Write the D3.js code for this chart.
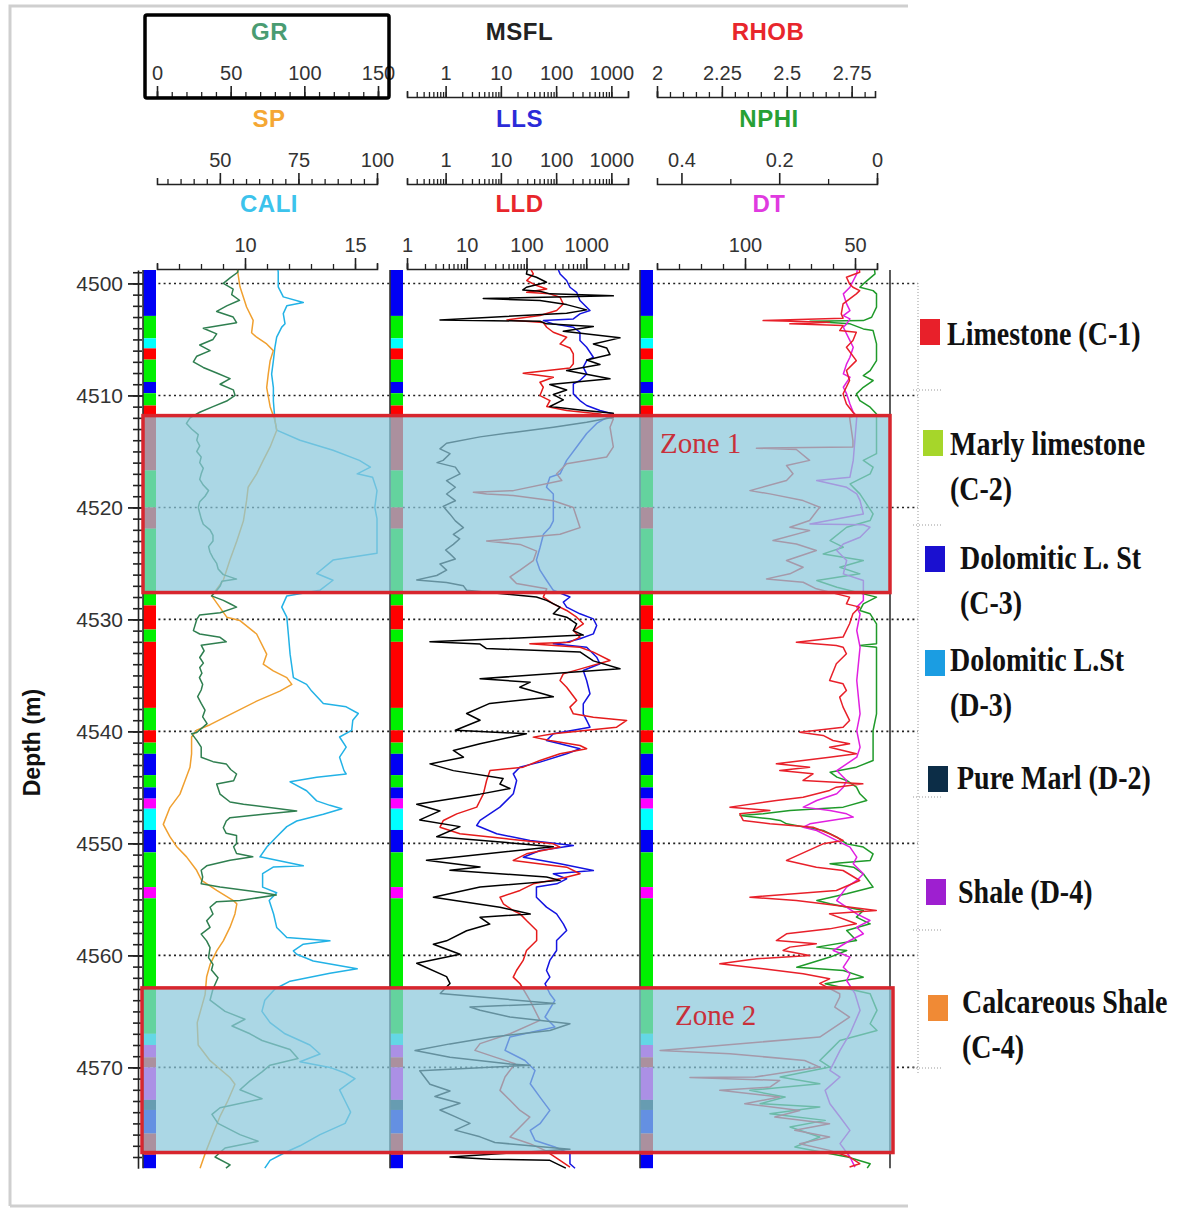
<!DOCTYPE html>
<html>
<head>
<meta charset="utf-8">
<script src="https://cdn.jsdelivr.net/npm/d3@7"></script>
<style>
  body { margin: 0; background: #fff; }
  text { font-family: "Liberation Sans", Arial, sans-serif; }
</style>
</head>
<body>
<svg id="chart" width="1182" height="1209"></svg>
<script>
// ---- data ----
const DEPTH_RANGE = [4498.8, 4579];
const DEPTH_TICKS = [4500, 4510, 4520, 4530, 4540, 4550, 4560, 4570];

// header axis ticks
const GR_TICKS = [0, 50, 100, 150];
const SP_TICKS = [50, 75, 100];
const CALI_TICKS = [10, 15];
const RES_TICKS = [1, 10, 100, 1000];
const RHOB_TICKS = [2, 2.25, 2.5, 2.75];
const NPHI_TICKS = [0.4, 0.2, 0];
const DT_TICKS = [100, 50];

// curves: [depth (m), value]
const GR = [[4498.8,55],[4499.0,54.8],[4499.5,49.6],[4500.0,45],[4500.5,51.7],[4501.0,50.7],[4501.5,56],[4502.0,47.3],[4502.5,40.5],[4503.0,51.7],[4503.5,54],[4504.0,31.4],[4504.5,40.5],[4505.0,38],[4505.5,29],[4506.0,36],[4506.5,27],[4507.0,24.7],[4507.5,31.4],[4508.0,40.5],[4508.5,49.6],[4509.0,42.8],[4509.5,51.8],[4510.0,53],[4510.5,47.3],[4511.0,38],[4511.5,29],[4512.0,22.4],[4512.5,20],[4513.0,23.5],[4513.5,28],[4514.0,27],[4514.5,29],[4515.0,27],[4515.5,30],[4516.0,29],[4516.5,31.4],[4517.0,30],[4517.5,29],[4518.0,31.4],[4518.5,35],[4519.0,32.6],[4519.5,29],[4520.0,28],[4520.5,29],[4521.0,30],[4521.5,31.4],[4522.0,36],[4522.5,38],[4523.0,38],[4523.5,35],[4524.0,36],[4524.5,38],[4525.0,40.5],[4525.5,41.5],[4526.0,45],[4526.4,54],[4526.6,44],[4527.0,43],[4527.5,40],
  [4527.9,37],[4528.3,45],[4528.6,49.6],[4528.9,54],[4529.4,42.8],[4529.6,29],[4530.0,27],[4531.0,24.7],[4531.3,29],[4531.6,42.8],[4532.0,47],[4532.3,30],[4532.8,32],[4533.4,29],[4533.9,31.5],[4534.3,29],[4534.8,30.5],[4535.2,28.8],[4535.8,31],[4536.3,30],[4536.9,27.6],[4537.5,30],[4538.1,32.6],[4538.7,31],[4539.3,34],[4540.1,27],[4540.2,23.5],[4540.8,27],[4541.4,30],[4542.3,30],[4542.7,38],[4542.9,47],[4543.4,50],[4543.8,54],[4544.4,52],[4544.7,40.5],[4545.6,42.8],[4546.3,49.6],[4546.5,58.7],[4547.1,94.8],[4547.4,72],[4547.7,49.6],[4548.0,47],[4548.6,45],[4549.1,47],[4549.3,54],[4550.0,54],[4550.3,52],[4550.9,54],[4551.2,65],[4551.5,49.6],[4552.0,33.7],[4552.4,30],[4553.0,31],[4553.6,30],[4553.9,42.8],[4554.4,72],[4554.6,81],[4555.1,56.3],[4555.2,40.5],[4555.7,36],[4556.3,38],[4556.9,33.7],[4557.5,36],[4558.1,30],[4558.7,33.7],[4559.3,36],[4560.2,35],[4560.8,38],[4561.3,37],
  [4562.0,41.4],[4563.0,38],[4564.0,36],[4565.0,46.2],[4565.7,59.7],[4566.3,50.9],[4567.0,63.1],[4567.6,71.3],[4568.4,90.3],[4569.2,95.7],[4569.8,76.7],[4570.4,71.3],[4571.2,63.1],[4572.0,56.3],[4572.8,71.3],[4573.6,42.8],[4574.2,37.3],[4575.0,41.4],[4576.0,56.3],[4576.6,68.6],[4577.2,46.2],[4578.0,39.4],[4578.7,49.6],[4579.0,46.8]];

const SP = [[4498.8,55.5],[4499.0,55.7],[4500.3,56.4],[4502.1,58.5],[4503.3,60.6],[4504.4,60.1],[4504.8,61.7],[4505.4,64.9],[4506.0,67],[4506.9,66],[4508.1,65.4],[4509.3,64.9],[4511.0,66],[4512.2,67.5],[4513.1,68.1],[4514.6,66],[4515.8,63.8],[4517.0,61.7],[4518.2,59],[4519.4,58.5],[4521.2,57.5],[4523.0,55.4],[4524.7,53.2],[4526.5,51.1],[4527.9,47.4],[4529.8,52.2],[4530.1,56.4],[4531.3,61.7],[4533.1,64.9],[4534.0,63.8],[4534.6,67],[4535.2,71.3],[4535.8,72.9],[4536.4,69.1],[4537.3,61.7],[4538.5,53.2],[4539.4,46.9],[4539.9,42.6],[4540.5,41],[4542.0,41],[4543.2,40.5],[4544.4,38.9],[4545.6,37.3],[4546.8,34.1],[4548.3,32],[4549.4,34.1],[4550.3,36.3],[4551.2,39.4],[4552.4,42.6],[4553.3,44.2],[4554.2,49],[4555.1,54.3],[4555.4,55.4],[4556.3,54.8],[4557.5,53.2],[4558.7,51.1],[4559.6,49],[4560.8,46.9],[4561.9,45.8],[4563.5,45.3],[4566.0,42.8],[4568.0,43.1],[4569.4,46.9],[4570.9,53.2],[4571.5,54.8],[4573.0,52.5],[4574.4,50],[4576.2,47.4],[4577.7,45.3],[4579.0,43.7]];

const CALI = [[4498.8,11.5],[4499.0,11.51],[4500.3,11.51],[4501.2,11.74],[4501.7,12.65],[4502.0,11.9],[4502.7,11.74],[4503.6,11.82],[4503.9,11.67],[4504.8,11.44],[4505.7,11.36],[4506.9,11.29],[4508.1,11.21],[4509.3,11.29],[4510.5,11.29],[4512.2,11.36],[4513.1,11.44],[4514.0,12.5],[4514.9,14.0],[4515.8,15.2],[4516.4,15.7],[4517.0,15.1],[4517.3,15.8],[4518.5,16],[4520.0,15.9],[4521.0,16],[4522.7,16],[4524.1,16],[4524.7,14],[4525.9,13.26],[4526.5,14],[4527.4,13.4],[4527.9,11.9],[4528.9,11.67],[4529.8,11.9],[4531.3,11.97],[4533.1,12.05],[4535.2,12.2],[4535.8,12.8],[4536.4,13.03],[4537.5,13.56],[4537.8,14.6],[4538.4,15.15],[4539.0,14.9],[4539.9,14.85],[4540.5,14.3],[4541.4,14.6],[4542.3,14.3],[4543.5,14.5],[4543.8,14.6],[4544.1,13.26],[4544.5,12.05],[4545.3,12.8],[4546.2,13.26],[4546.6,13.86],[4546.9,14.4],[4547.4,13.56],[4548.0,12.35],[4548.5,11.9],[4549.4,11.44],[4550.3,11.0],[4551.2,10.68],[4552.0,12.65],[4552.1,11.3],[4552.7,10.8],[4553.9,10.8],[4554.4,11.44],[4555.1,11.1],[4556.3,11.3],[4557.5,11.44],[4558.4,11.9],[4558.7,13.86],[4559.0,12.65],[4559.6,12.2],[4559.9,12.35],[4560.5,13.1],[4561.2,15.1],[4561.6,13.86],[4562.3,12.05],[4563.0,11.36],[4564.0,10.9],[4565.0,10.77],[4566.0,11.14],[4567.0,11.82],[4568.0,12.95],[4568.8,13.41],[4569.5,12.5],[4570.0,13.86],[4570.5,14.55],[4571.0,15],[4572.0,14.3],[4573.0,14.55],[4574.0,14.8],[4575.0,14.55],[4576.0,13.41],[4577.0,12.5],[4577.6,11.82],[4578.3,11.14],[4579.0,10.9]];

const MSFL = [[4498.8,30],[4499.15,29],[4499.45,44],[4499.89,67],[4500.34,29],[4500.58,25],[4500.7,51],[4500.93,77],[4501.11,1084],[4501.35,4.8],[4501.53,51],[4501.89,155],[4502.36,357],[4502.66,155],[4503.26,0.79],[4503.38,51],[4503.61,67],[4503.85,472],[4504.27,135],[4504.86,1432],[4505.4,472],[4505.76,822],[4506.35,944],[4506.83,357],[4507.24,622],[4507.78,155],[4508.52,944],[4509.03,77],[4509.51,155],[4509.92,89],[4510.4,135],[4510.99,77],[4511.29,270],[4511.59,1084],
  [4511.95,1084],[4512.4,357],[4512.84,89],[4513.3,16.8],[4513.7,4.2],[4514.27,1.04],[4514.77,0.79],[4515.2,1.2],[4515.8,0.9],[4516.0,0.7],[4516.4,1.5],[4517.0,1.82],[4517.6,1.04],[4518.2,1.5],[4518.8,1.04],[4519.4,1.5],[4519.9,0.9],[4520.6,1.2],[4521.2,1.5],[4521.8,2.1],[4522.4,1.38],[4522.8,1.8],[4523.3,1.38],[4523.8,1.0],[4524.15,1.2],[4524.6,1.5],[4525.05,0.79],[4525.6,1.04],[4526.08,0.69],[4526.47,0.3],[4526.7,1.04],[4527.0,2.1],[4527.4,2.4],
  [4528.0,44],[4528.3,67],[4528.9,118],[4529.5,89],[4529.8,155],[4530.4,235],[4531.0,205],[4531.4,310],[4532.0,0.52],[4532.2,4.2],[4532.6,5.5],[4532.9,270],[4533.7,472],[4534.4,1432],[4535.3,4.2],[4535.6,34],[4536.05,22],[4536.9,89],[4537.5,6.3],[4538.4,2.4],[4539.0,4.2],[4539.9,1.5],[4540.2,29],[4541.1,4.2],[4541.7,1.38],[4542.3,2.1],[4542.9,0.52],[4543.5,1.38],[4544.2,11],[4544.7,9.6],[4545.1,14.6],[4545.6,4.2],[4546.5,0.3],[4547.1,0.79],[4547.9,0.34],[4548.5,1.82],[4549.4,0.69],[4550.0,19.3],[4550.3,89],[4551.5,0.45],[4552.1,4.2],[4552.4,1.2],[4553.0,67],[4553.3,118],[4553.9,4.2],[4554.8,0.6],[4555.7,9.6],[4556.3,34],[4556.6,4.2],[4557.2,6.3],[4557.8,2.4],[4558.7,1.04],[4559.0,0.6],[4559.9,1.82],[4560.7,0.3],[4561.9,1.04],
  [4562.5,1.2],[4563.4,0.8],[4564.3,95],[4564.6,2.76],[4564.9,4.2],[4565.5,14.6],[4566.1,178],[4566.7,77],[4567.3,6.4],[4567.9,1.2],[4568.5,0.28],[4569.1,1.2],[4569.7,14.6],[4569.8,34],[4570.3,0.34],[4571.5,0.52],[4572.1,1.2],[4572.6,0.64],[4573.2,1.82],[4573.8,0.79],[4574.4,1.48],[4575.0,2.76],[4575.6,1.48],[4576.2,4.2],[4576.7,7.8],[4577.0,34],[4577.3,178],[4578.0,1.2],[4578.2,6.4],[4578.3,77],[4578.75,118],[4579.0,150]];

const LLS = [[4498.8,110],[4499.15,118],[4499.74,155],[4500.34,178],[4500.79,235],[4501.53,270],[4502.42,410],[4502.72,270],[4503.17,205],[4503.32,59],[4503.61,89],[4503.91,205],[4504.36,270],[4505.1,270],[4505.7,357],[4506.59,472],[4506.89,357],[4507.48,310],[4508.08,357],[4508.67,270],[4508.97,205],[4509.86,205],[4510.46,270],[4510.9,357],[4511.35,622],[4511.65,1084],
  [4512.5,542],[4513.4,357],[4514.6,235],[4515.8,155],[4517.0,118],[4517.3,77],[4518.2,67],[4518.8,89],[4520.0,89],[4521.2,89],[4521.8,77],[4522.4,59],[4523.6,51],[4524.7,44],[4525.6,51],[4526.5,67],[4527.4,89],
  [4528.0,178],[4528.46,135],[4528.9,155],[4529.5,270],[4529.95,472],[4530.54,542],[4531.29,472],[4531.73,270],[4532.03,155],[4532.18,89],[4532.48,357],[4533.37,542],[4533.96,622],[4534.56,310],[4535.45,357],[4536.64,410],[4537.54,310],[4538.43,310],[4539.02,357],[4539.62,410],[4540.21,89],[4540.81,67],[4541.11,118],[4541.55,270],[4542.0,155],[4542.74,51],[4543.19,22],[4543.79,16.8],[4544.38,19.3],[4545.57,16.8],[4546.76,9.6],[4547.95,4.2],[4548.4,3.65],[4549.14,8.4],[4549.74,33.7],[4550.19,205],[4550.63,51],[4551.23,25.5],[4551.82,118],[4552.42,472],[4552.71,89],[4553.16,155],[4553.61,103],[4553.9,44],[4554.8,44],[4555.69,67],[4556.29,102],[4557.18,135],[4557.77,155],[4558.67,102],[4559.56,102],[4560.45,77],[4561.35,67],[4561.94,77],
  [4562.53,63],[4563.42,77],[4564.02,95],[4565.5,63],[4566.4,95],[4567.29,14.6],[4568.48,11.9],[4569.38,27.3],[4570.27,41.5],[4571.46,34],[4572.65,51],[4573.84,77],[4575.03,51],[4575.62,34],[4576.52,41.5],[4577.11,95],[4577.71,178],[4578.6,178],[4579.0,220]];

const LLD = [[4498.8,120],[4499.15,130],[4499.74,101],[4500.19,148],[4500.49,218],[4500.79,101],[4500.93,247],[4501.23,364],[4501.83,412],[4502.42,320],[4502.87,168],[4503.26,47],[4503.49,191],[4503.91,218],[4504.36,281],[4504.8,470],[4505.4,364],[4505.76,534],[4506.29,608],[4507.18,608],[4507.54,534],[4508.02,88],[4508.38,281],[4508.82,168],[4509.27,191],[4510.01,168],[4510.46,247],[4510.99,218],[4511.35,470],[4511.65,1700],
  [4512.1,2840],[4512.84,2500],[4514.6,2840],[4515.5,2197],[4516.1,470],[4517.0,320],[4517.6,390],[4518.5,60],[4518.65,12.9],[4518.8,21.5],[4518.94,60],[4519.4,281],[4520.0,608],[4521.8,786],[4522.4,364],[4523.0,21.5],[4523.3,78],[4523.9,148],[4524.75,130],[4525.6,78],[4526.2,53],[4526.8,68],[4527.27,218],
  [4528.01,191],[4528.61,281],[4529.2,470],[4529.8,691],[4530.39,894],[4530.99,608],[4531.58,786],[4532.03,534],[4532.18,114],[4532.48,786],[4532.92,1315],[4533.67,2500],[4534.26,1016],[4534.86,412],[4535.45,364],[4536.05,470],[4537.24,691],[4537.83,534],[4538.43,608],[4538.73,1315],[4539.02,4750],[4539.62,3230],[4540.21,281],[4540.51,130],[4540.81,247],[4541.26,786],[4541.55,1016],[4542.0,364],[4542.6,168],[4543.19,88],[4543.49,24.5],[4544.38,21.5],[4545.57,19],[4546.17,16.7],[4546.76,14.7],[4547.36,6.8],[4547.95,4.06],[4548.55,3.57],[4549.14,7.7],[4549.59,46.6],[4550.04,281],[4550.33,364],[4550.93,100],[4551.52,60],[4552.12,470],[4552.71,786],[4553.16,364],[4553.61,130],[4554.2,78],[4554.8,36],[4555.39,41],[4555.99,60],[4556.29,78],[4556.88,100],[4557.77,148],[4558.67,148],[4559.56,100],[4560.45,88],[4561.35,68],[4561.94,60],
  [4562.53,78],[4564.02,114],[4565.8,168],[4566.99,53],[4567.88,16.7],[4568.48,13.7],[4569.08,29.7],[4569.67,64],[4570.86,43.7],[4572.05,36],[4572.94,53],[4573.84,78],[4574.43,114],[4575.32,78],[4576.22,53],[4576.81,114],[4577.41,204],[4578.3,364],[4578.9,535]];

const RHOB = [[4498.8,2.78],[4499.0,2.781],[4499.45,2.73],[4500.04,2.742],[4500.34,2.755],[4500.64,2.781],[4500.93,2.768],[4501.83,2.717],[4502.72,2.71],[4503.1,2.717],[4503.32,2.409],[4503.46,2.665],[4503.61,2.512],[4503.76,2.717],[4504.21,2.704],[4504.36,2.768],[4505.1,2.755],[4505.7,2.73],[4506.89,2.768],[4507.78,2.73],[4508.67,2.742],[4509.86,2.717],[4510.76,2.73],[4511.5,2.755],[4511.8,2.768],
  [4511.95,2.742],[4514.03,2.755],[4514.6,2.755],[4514.71,2.383],[4514.83,2.537],[4515.8,2.588],[4516.26,2.499],[4517.0,2.524],[4517.6,2.499],[4518.5,2.358],[4518.79,2.435],[4519.39,2.563],[4519.98,2.627],[4521.17,2.588],[4521.77,2.512],[4522.07,2.588],[4522.96,2.447],[4523.26,2.537],[4523.85,2.614],[4524.74,2.499],[4525.34,2.563],[4525.93,2.512],[4526.38,2.422],[4526.68,2.563],[4527.27,2.614],
  [4528.01,2.742],[4528.61,2.73],[4528.9,2.781],[4529.5,2.755],[4530.39,2.742],[4531.58,2.717],[4532.03,2.537],[4532.33,2.691],[4532.48,2.717],[4533.07,2.73],[4533.96,2.691],[4535.45,2.665],[4535.75,2.717],[4536.35,2.73],[4536.94,2.704],[4537.83,2.717],[4539.02,2.742],[4539.62,2.717],[4540.07,2.55],[4540.36,2.64],[4540.81,2.678],[4541.11,2.742],[4541.41,2.665],[4541.7,2.717],[4542.0,2.768],[4542.3,2.665],[4542.89,2.46],[4543.19,2.588],[4543.49,2.473],[4543.79,2.601],[4544.38,2.563],[4544.68,2.793],[4544.98,2.691],[4545.27,2.665],[4545.87,2.563],[4546.17,2.46],[4546.76,2.281],[4547.06,2.435],[4547.36,2.319],[4547.95,2.332],[4548.25,2.435],[4548.55,2.601],[4549.14,2.665],[4549.74,2.717],[4550.04,2.64],[4551.52,2.499],[4552.12,2.614],[4552.42,2.717],[4553.31,2.781],[4554.2,2.691],[4554.8,2.358],[4555.1,2.537],[4555.39,2.64],[4555.99,2.845],[4556.29,2.665],[4557.18,2.768],[4557.63,2.665],[4558.07,2.499],[4558.67,2.46],[4558.96,2.614],[4559.26,2.512],[4559.56,2.486],[4560.01,2.588],[4560.3,2.383],[4560.75,2.242],[4561.2,2.409],[4561.64,2.563],[4562.09,2.665],
  [4562.5,2.627],[4563.42,2.704],[4563.72,2.704],[4564.61,2.685],[4565.5,2.742],[4567.29,2.627],[4568.48,2.012],[4568.78,2.281],[4569.38,2.569],[4569.97,2.627],[4570.86,2.377],[4570.9,2.127],[4571.16,2.473],[4571.76,2.435],[4572.05,2.242],[4572.65,2.473],[4573.24,2.338],[4573.84,2.55],[4574.43,2.454],[4575.03,2.665],[4575.62,2.531],[4576.22,2.665],[4576.81,2.55],[4577.41,2.665],[4578.0,2.742],[4578.6,2.781],[4578.9,2.742]];

const NPHI = [[4498.8,0.005],[4499.15,0.004],[4500.04,0.028],[4500.34,0.035],[4500.64,0.008],[4500.93,0.001],[4502.12,0.001],[4503.02,0.011],[4503.32,0.028],[4503.38,0.137],[4503.61,0.055],[4504.06,0.028],[4504.21,0.008],[4505.4,0.001],[4506.89,0.001],[4507.78,0.014],[4508.23,0.028],[4508.67,0.008],[4509.27,0.028],[4509.86,0.042],[4510.46,0.035],[4511.05,0.014],[4511.65,0.001],
  [4511.95,0.001],[4515.2,0.001],[4515.8,0.028],[4516.41,0.008],[4517.0,0.014],[4517.9,0.055],[4518.79,0.035],[4520.58,0.008],[4521.17,0.014],[4521.77,0.062],[4522.96,0.096],[4523.55,0.069],[4524.15,0.11],[4524.74,0.028],[4525.34,0.076],[4525.93,0.035],[4526.53,0.123],[4527.12,0.082],
  [4528.01,0.001],[4528.61,0.028],[4529.2,0.035],[4529.5,0.014],[4530.39,0.001],[4532.18,0.001],[4532.33,0.035],[4532.48,0.001],[4535.45,0.001],[4538.43,0.001],[4539.92,0.008],[4542.6,0.008],[4543.19,0.042],[4543.64,0.096],[4544.08,0.082],[4544.38,0.062],[4544.98,0.042],[4545.57,0.035],[4546.17,0.021],[4546.76,0.069],[4547.06,0.178],[4547.36,0.233],[4547.51,0.28],[4547.8,0.219],[4547.95,0.198],[4548.25,0.185],[4548.85,0.11],[4549.44,0.082],[4550.04,0.062],[4550.33,0.028],[4550.93,0.008],[4551.52,0.014],[4551.82,0.096],[4552.12,0.048],[4552.71,0.028],[4553.9,0.008],[4554.5,0.062],[4555.1,0.123],[4555.39,0.096],[4555.99,0.028],[4556.58,0.042],[4557.18,0.014],[4557.77,0.062],[4558.67,0.042],[4559.26,0.123],[4559.56,0.062],[4560.15,0.096],[4561.05,0.164],[4561.35,0.069],[4561.94,0.028],
  [4562.53,0.106],[4563.42,0.014],[4564.91,0.0],[4566.1,0.014],[4566.7,0.0],[4567.59,0.076],[4568.48,0.096],[4569.38,0.117],[4569.97,0.096],[4570.86,0.198],[4571.46,0.117],[4572.05,0.26],[4572.65,0.188],[4573.24,0.239],[4573.54,0.117],[4574.13,0.219],[4574.73,0.106],[4575.32,0.178],[4576.22,0.117],[4577.11,0.168],[4578.0,0.06],[4578.6,0.014],[4579.0,0.02]];

const DT = [[4498.8,49],[4499.15,49.2],[4500.34,52.3],[4500.93,55.3],[4501.83,53.8],[4502.42,52.3],[4502.87,55.3],[4503.17,52.3],[4503.61,53.8],[4503.91,55.3],[4505.1,52.3],[4505.7,50.8],[4506.59,52.3],[4507.18,53.8],[4508.08,55.3],[4508.38,52.3],[4509.27,55.3],[4509.86,53.8],[4510.76,52.3],[4511.5,50.8],
  [4511.95,49.2],[4515.8,50.8],[4517.3,52.3],[4517.6,67.4],[4518.2,53.8],[4518.79,49.2],[4519.39,47.7],[4520.58,46.2],[4521.47,70.5],[4521.55,46.2],[4521.77,43.2],[4522.66,47.7],[4523.26,55.3],[4523.85,58.3],[4524.74,53.8],[4525.93,55.3],[4526.53,46.2],
  [4528.31,46.2],[4528.9,49.2],[4529.5,47.7],[4530.99,49.2],[4532.48,47.7],[4535.45,49.2],[4538.43,47.7],[4539.92,49.2],[4541.41,47.7],[4542.3,49.2],[4543.49,58.3],[4544.38,53.8],[4544.98,55.3],[4545.57,58.3],[4546.17,67.4],[4546.76,73.5],[4547.06,61.4],[4547.36,53.8],[4547.65,50.8],[4548.25,70.5],[4548.55,73.5],[4548.85,67.4],[4549.44,61.4],[4550.04,55.3],[4550.33,52.3],[4551.23,49.2],[4551.82,50.8],[4552.71,46.2],[4553.31,49.2],[4553.9,53.8],[4555.1,58.3],[4556.29,49.2],[4556.88,43.2],[4557.48,49.2],[4558.07,46.2],[4558.67,52.3],[4559.56,59.9],[4560.15,52.3],[4561.05,55.3],[4561.64,52.3],[4562.24,53.8],
  [4563.42,50],[4564.91,47.7],[4566.99,52.3],[4568.48,56.8],[4570.27,61.4],[4570.86,56.8],[4572.05,63.6],[4573.24,61.4],[4574.43,56.8],[4575.62,52.3],[4576.81,56.8],[4578.0,52.3],[4578.9,50]];

// lithology column: [top, base, class]
const LITHO = [[4498.8,4502.9,"B"],[4502.9,4504.9,"G"],[4504.9,4505.8,"C"],[4505.8,4506.8,"R"],[4506.8,4508.8,"G"],[4508.8,4509.8,"B"],[4509.8,4510.9,"G"],[4510.9,4516.7,"R"],[4516.7,4520.0,"G"],[4520.0,4521.9,"R"],[4521.9,4528.75,"G"],[4528.75,4530.9,"R"],[4530.9,4532.0,"G"],[4532.0,4537.9,"R"],[4537.9,4539.9,"G"],[4539.9,4541.0,"R"],[4541.0,4542.0,"G"],[4542.0,4543.9,"B"],[4543.9,4545.0,"G"],[4545.0,4546.0,"B"],[4546.0,4546.9,"M"],[4546.9,4548.8,"C"],[4548.8,4550.8,"B"],[4550.8,4553.9,"G"],[4553.9,4554.9,"M"],[4554.9,4567.0,"G"],[4567.0,4568.0,"C"],[4568.0,4569.1,"M"],[4569.1,4570.0,"R"],[4570.0,4572.9,"M"],[4572.9,4573.8,"N"],[4573.8,4575.9,"B"],[4575.9,4577.8,"R"],[4577.8,4579.0,"B"]];

const ZONE_NAMES = ["Zone 1", "Zone 2"];
const ZONE_TOPS = [4511.8, 4562.9];
const ZONE_BASES = [4527.6, 4577.6];

const LEGEND_LINES = [["Limestone (C-1)"], ["Marly limestone", "(C-2)"], ["Dolomitic L. St", "(C-3)"], ["Dolomitic L.St", "(D-3)"], ["Pure Marl (D-2)"], ["Shale (D-4)"], ["Calcareous Shale", "(C-4)"]];

// ---- styles / layout ----
const LITHO_COLORS = {B: "#0000f5", G: "#00f000", C: "#00ffff", R: "#ff0000", M: "#ff00ff", N: "#0c2d47"};
const LEGEND_COLORS = ["#e8202a", "#a6d62a", "#1a10d0", "#1b9de2", "#0c2d47", "#9e1fd0", "#f08a35"];
const LEGEND_POS = [
  {sx: 920, sy: 319, tx: 947, by: 345},
  {sx: 923, sy: 430, tx: 950, by: 455},
  {sx: 925, sy: 546, tx: 960, by: 569},
  {sx: 925, sy: 650, tx: 950, by: 671},
  {sx: 928, sy: 766, tx: 957, by: 789},
  {sx: 926, sy: 879, tx: 958, by: 903},
  {sx: 928, sy: 995, tx: 962, by: 1013}
];

const svg = d3.select("#chart");

const y = d3.scaleLinear().domain(DEPTH_RANGE).range([270, 1168.2]);

const grX = d3.scaleLinear().domain([0, 150]).range([157, 378]);
const spX = d3.scaleLinear().domain([30, 100]).range([157, 377]);
const caliX = d3.scaleLinear().domain([6, 16]).range([157, 377]);
const msflX = d3.scaleLog().domain([0.2, 2000]).range([407, 628]);
const llsX = d3.scaleLog().domain([0.2, 2000]).range([407, 628]);
const lldX = d3.scaleLog().domain([1, 5000]).range([407, 628]);
const rhobX = d3.scaleLinear().domain([2, 2.84]).range([657, 875]);
const nphiX = d3.scaleLinear().domain([0.45, 0]).range([657, 877]);
const dtX = d3.scaleLinear().domain([140, 40]).range([657, 877]);

// frame of the screenshot
const frame = svg.append("g").attr("stroke", "#cfcfcf").attr("stroke-width", 3).attr("fill", "none");
frame.append("path").attr("d", "M10,1206V6H908");
frame.append("path").attr("d", "M10,1206H908");

// ---- header axes ----
const AXIS_Y = [97, 184, 269];
const fmtPlain = d => String(d);
const headers = [
  {title: "GR", color: "#4a9c72", scale: grX, row: 0, major: GR_TICKS, minor: d3.range(0, 151, 10)},
  {title: "SP", color: "#f5a733", scale: spX, row: 1, major: SP_TICKS, minor: d3.range(0, 17).map(i => 100 - i * 25 / 6)},
  {title: "CALI", color: "#3cc3ec", scale: caliX, row: 2, major: CALI_TICKS, minor: d3.range(6, 17, 1)},
  {title: "MSFL", color: "#222", scale: msflX, row: 0, major: RES_TICKS, minor: msflX.ticks()},
  {title: "LLS", color: "#2b2bd8", scale: llsX, row: 1, major: RES_TICKS, minor: llsX.ticks()},
  {title: "LLD", color: "#e8262c", scale: lldX, row: 2, major: RES_TICKS, minor: lldX.ticks()},
  {title: "RHOB", color: "#e8262c", scale: rhobX, row: 0, major: RHOB_TICKS, minor: d3.range(0, 17).map(i => 2 + i * 0.05)},
  {title: "NPHI", color: "#27a035", scale: nphiX, row: 1, major: NPHI_TICKS, minor: [0.3, 0.1]},
  {title: "DT", color: "#e03ae0", scale: dtX, row: 2, major: DT_TICKS, minor: d3.range(40, 141, 10)}
];

headers.forEach(h => {
  const ay = AXIS_Y[h.row];
  const gMinor = svg.append("g").attr("transform", `translate(0,${ay})`)
    .call(d3.axisTop(h.scale).tickValues(h.minor).tickSize(5).tickFormat(""));
  gMinor.select(".domain").remove();
  gMinor.selectAll(".tick line").attr("stroke", "#222").attr("stroke-width", 1.3);

  const gMajor = svg.append("g").attr("transform", `translate(0,${ay})`)
    .call(d3.axisTop(h.scale).tickValues(h.major).tickSize(11).tickSizeOuter(6).tickPadding(6).tickFormat(fmtPlain));
  gMajor.select(".domain").attr("stroke", "#222").attr("stroke-width", 1.6);
  gMajor.selectAll(".tick line").attr("stroke", "#222").attr("stroke-width", 1.6);
  gMajor.selectAll(".tick text").attr("fill", "#333").style("font-size", "20px")
    .style("font-family", "'Liberation Sans', Arial, sans-serif");

  const r = h.scale.range();
  svg.append("text")
    .attr("x", (r[0] + r[1]) / 2 + 2)
    .attr("y", ay - 57)
    .attr("text-anchor", "middle")
    .attr("fill", h.color)
    .style("font-size", "24px")
    .style("font-weight", "bold")
    .style("letter-spacing", "0.5px")
    .text(h.title);
});

// box round the GR header
svg.append("rect").attr("x", 145).attr("y", 15).attr("width", 244).attr("height", 83)
  .attr("rx", 2).attr("fill", "none").attr("stroke", "#000").attr("stroke-width", 3.5);

// ---- depth grid (dotted) ----
svg.append("g").selectAll("line").data(DEPTH_TICKS).join("line")
  .attr("x1", 148).attr("x2", 918)
  .attr("y1", d => y(d)).attr("y2", d => y(d))
  .attr("stroke", "#222").attr("stroke-width", 1.6).attr("stroke-dasharray", "2,3.2");

// ---- curves ----
const defs = svg.append("defs");
const TRACK_CLIPS = [[155, 390], [404, 640], [654, 890]];
TRACK_CLIPS.forEach((c, i) => {
  defs.append("clipPath").attr("id", "clip" + i).append("rect")
    .attr("x", c[0]).attr("y", 268).attr("width", c[1] - c[0]).attr("height", 902);
});

const curves = [
  {data: CALI, scale: caliX, color: "#22b2e6", track: 0},
  {data: SP, scale: spX, color: "#f0a030", track: 0},
  {data: GR, scale: grX, color: "#2f7f50", track: 0},
  {data: LLS, scale: llsX, color: "#1414e0", track: 1},
  {data: LLD, scale: lldX, color: "#e51b1b", track: 1},
  {data: MSFL, scale: msflX, color: "#000", track: 1},
  {data: NPHI, scale: nphiX, color: "#1f9a2a", track: 2},
  {data: DT, scale: dtX, color: "#e020e0", track: 2},
  {data: RHOB, scale: rhobX, color: "#e8202a", track: 2}
];

curves.forEach(c => {
  const line = d3.line().x(d => c.scale(d[1])).y(d => y(d[0]));
  svg.append("path")
    .datum(c.data)
    .attr("clip-path", `url(#clip${c.track})`)
    .attr("d", line)
    .attr("fill", "none")
    .attr("stroke", c.color)
    .attr("stroke-width", 1.5)
    .attr("stroke-linejoin", "round");
});

// ---- lithology columns ----
const LITHO_X = [143, 390, 640];
LITHO_X.forEach(lx => {
  svg.append("g").selectAll("rect").data(LITHO).join("rect")
    .attr("x", lx).attr("width", 13)
    .attr("y", d => y(d[0])).attr("height", d => y(d[1]) - y(d[0]))
    .attr("fill", d => LITHO_COLORS[d[2]]);
});

// track borders
svg.append("g").selectAll("line").data([143, 390, 640, 890]).join("line")
  .attr("x1", d => d).attr("x2", d => d)
  .attr("y1", y(DEPTH_RANGE[0])).attr("y2", y(DEPTH_RANGE[1]))
  .attr("stroke", "#333").attr("stroke-width", 1.6);

// ---- depth axis ----
const yMinor = svg.append("g").attr("transform", "translate(138,0)")
  .call(d3.axisLeft(y).tickValues(d3.range(4499, 4579, 1)).tickSize(5).tickFormat(""));
yMinor.select(".domain").remove();
yMinor.selectAll(".tick line").attr("x1", 4).attr("stroke", "#222").attr("stroke-width", 1.6);

const yMajor = svg.append("g").attr("transform", "translate(138,0)")
  .call(d3.axisLeft(y).tickValues(DEPTH_TICKS).tickSize(10).tickSizeOuter(0).tickPadding(5).tickFormat(d3.format("d")));
yMajor.select(".domain").attr("stroke", "#222").attr("stroke-width", 1.6);
yMajor.selectAll(".tick line").attr("x1", 5).attr("stroke", "#222").attr("stroke-width", 1.8);
yMajor.selectAll(".tick text").attr("fill", "#333").style("font-size", "21px")
  .style("font-family", "'Liberation Sans', Arial, sans-serif");

svg.append("text")
  .attr("transform", `translate(40,${(y(4540) + y(4542)) / 2}) rotate(-90)`)
  .attr("text-anchor", "middle")
  .attr("fill", "#111")
  .style("font-size", "23px")
  .style("font-weight", "bold")
  .text("Depth (m)");

// ---- zones ----
const ZONE_X = [[143, 890], [142, 893]];
const ZONE_LABEL_X = [660, 675];
ZONE_NAMES.forEach((name, i) => {
  const top = y(ZONE_TOPS[i]), base = y(ZONE_BASES[i]);
  svg.append("rect")
    .attr("x", ZONE_X[i][0]).attr("y", top)
    .attr("width", ZONE_X[i][1] - ZONE_X[i][0]).attr("height", base - top)
    .attr("fill", "rgb(138,199,219)").attr("fill-opacity", 0.72)
    .attr("stroke", "#d7262e").attr("stroke-width", 3.5);
  svg.append("text")
    .attr("x", ZONE_LABEL_X[i]).attr("y", top + 37)
    .attr("fill", "#c8303a")
    .style("font-family", "'Liberation Serif', 'Times New Roman', serif")
    .style("font-size", "29px")
    .text(name);
});

// ---- right side: neighbouring track remnants ----
svg.append("line").attr("x1", 918).attr("x2", 918).attr("y1", 283).attr("y2", 1075)
  .attr("stroke", "#999").attr("stroke-width", 1).attr("stroke-dasharray", "1,2");
svg.append("g").selectAll("line").data([390, 525, 797, 930, 1068]).join("line")
  .attr("x1", 913).attr("x2", 942).attr("y1", d => d).attr("y2", d => d)
  .attr("stroke", "#999").attr("stroke-width", 1).attr("stroke-dasharray", "1,2");

// ---- legend ----
LEGEND_LINES.forEach((lines, i) => {
  const p = LEGEND_POS[i];
  svg.append("rect").attr("x", p.sx).attr("y", p.sy).attr("width", 20).attr("height", 26)
    .attr("fill", LEGEND_COLORS[i]);
  lines.forEach((t, j) => {
    svg.append("text")
      .attr("transform", `translate(${p.tx},${p.by + j * 45}) scale(1,1.22)`)
      .attr("fill", "#111")
      .style("font-family", "'Liberation Serif', 'Times New Roman', serif")
      .style("font-weight", "bold")
      .style("font-size", "28px")
      .text(t);
  });
});
</script>
</body>
</html>
